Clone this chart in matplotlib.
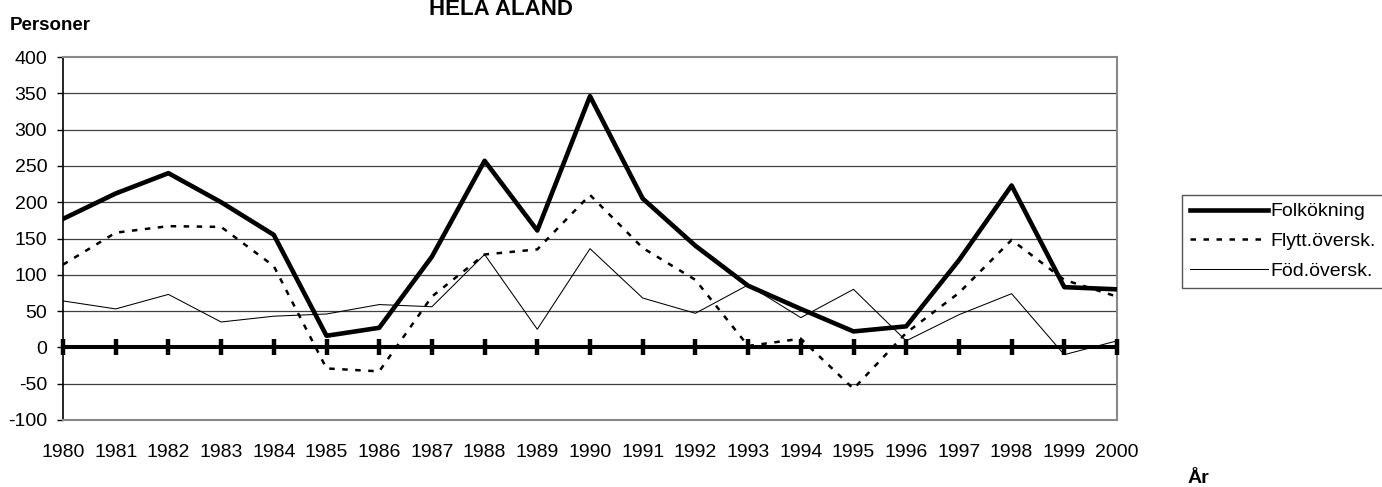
import numpy as np
import matplotlib
matplotlib.use("Agg")
import matplotlib.pyplot as plt

plt.rcParams['font.family'] = ['Liberation Sans', 'DejaVu Sans']
plt.rcParams['axes.unicode_minus'] = False

# data
years = list(range(1980, 2001))
folkokning = [177, 212, 240, 200, 155, 16, 27, 125, 257, 161, 346,
              205, 140, 85, 53, 22, 29, 120, 223, 83, 80]
flytt = [114, 158, 167, 166, 112, -29, -33, 70, 128, 135, 210,
         137, 93, 2, 12, -57, 20, 75, 148, 93, 70]
fod = [64, 53, 73, 35, 43, 46, 59, 56, 128, 25, 136,
       68, 47, 86, 41, 80, 9, 45, 74, -10, 9]
y_ticks = list(range(-100, 401, 50))

fig = plt.figure(figsize=(13.82, 4.87), dpi=100)
ax = fig.add_axes([63 / 1382, 1 - 420 / 487, (1117 - 63) / 1382, (420 - 57) / 487])

# rutnät
for v in y_ticks[1:-1]:
    ax.axhline(v, color='#404040', lw=0.9, zorder=1)

# nollinje med streck
ax.plot(years, [0] * len(years), color='black', lw=2.9, marker='|',
        markersize=11.5, mew=3.2, zorder=3, solid_capstyle='butt',
        clip_on=False)

ax.plot(years, fod, color='black', lw=0.75, label='Föd.översk.', zorder=4)
ax.plot(years, flytt, color='black', lw=1.8, dashes=(2.2, 3.0), label='Flytt.översk.', zorder=4)
ax.plot(years, folkokning, color='black', lw=3.3, label='Folkökning', zorder=5)

ax.set_xlim(1980, 2000)
ax.set_ylim(-100, 400)
ax.set_yticks(y_ticks)
ax.set_xticks(years)
ax.tick_params(axis='x', length=0, pad=17, labelsize=14)
ax.tick_params(axis='y', length=4.3, width=1, direction='out', pad=7, labelsize=14)

for side in ['top', 'right', 'bottom']:
    ax.spines[side].set_color('#888888')
    ax.spines[side].set_linewidth(1.5)
ax.spines['left'].set_color('black')
ax.spines['left'].set_linewidth(1.2)

handles, labels = ax.get_legend_handles_labels()
order = [2, 1, 0]
leg = fig.legend([handles[i] for i in order], [labels[i] for i in order],
                 loc='upper left', bbox_to_anchor=(1182 / 1382, 1 - 195 / 487),
                 fontsize=14, handlelength=4.0, handletextpad=0.15,
                 borderpad=0.4, labelspacing=0.62, fancybox=False,
                 framealpha=1, edgecolor='#555555', borderaxespad=0)
leg.get_frame().set_linewidth(1.0)

fig.text(501 / 1382, 1 - 15 / 487, 'HELA ÅLAND', ha='center', va='baseline',
         fontsize=16, fontweight='bold')
fig.text(10 / 1382, 1 - 30 / 487, 'Personer', ha='left', va='baseline',
         fontsize=13.5, fontweight='bold')
fig.text(1198 / 1382, 1 - 483 / 487, 'År', ha='center', va='baseline',
         fontsize=14, fontweight='bold')

fig.savefig('out.png', dpi=100)
